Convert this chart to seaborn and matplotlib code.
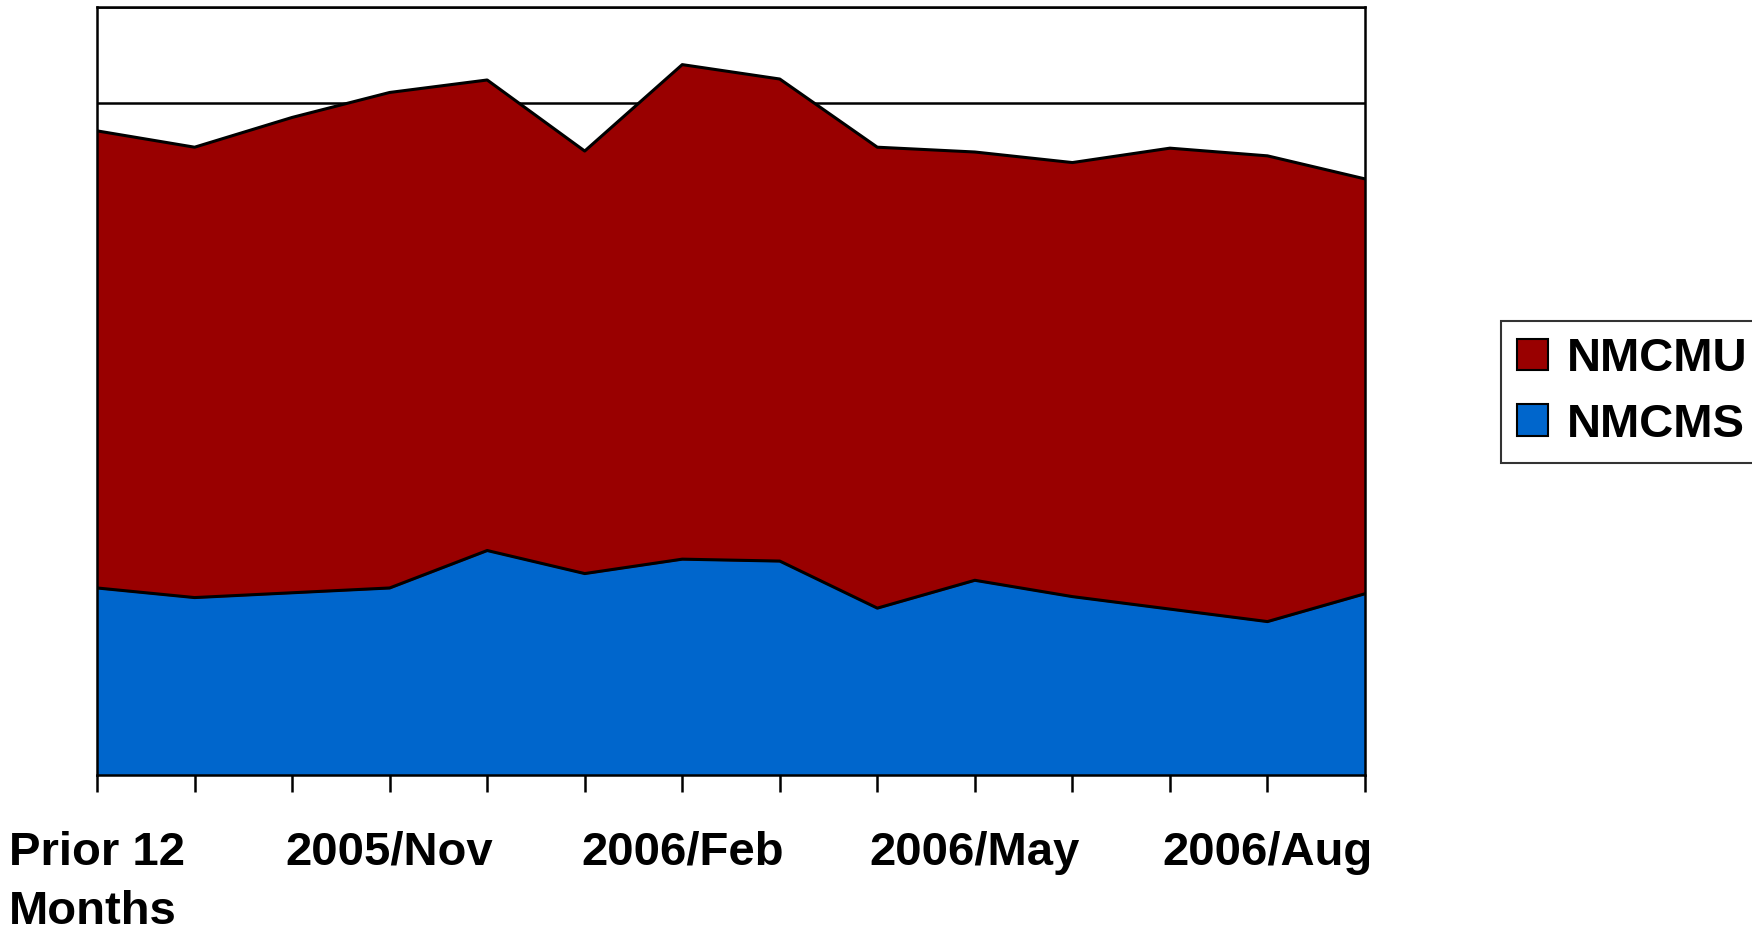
import numpy as np
import pandas as pd
import matplotlib
matplotlib.use("Agg")
import matplotlib.pyplot as plt
import seaborn as sns
from matplotlib.patches import Patch

months = ["Prior 12\nMonths", "2005/Sep", "2005/Oct", "2005/Nov", "2005/Dec",
          "2006/Jan", "2006/Feb", "2006/Mar", "2006/Apr", "2006/May",
          "2006/Jun", "2006/Jul", "2006/Aug", "2006/Sep"]
shown_labels = ["Prior 12\nMonths", "2005/Nov", "2006/Feb", "2006/May", "2006/Aug"]
nmcms = [1.95, 1.85, 1.90, 1.95, 2.34, 2.10, 2.25, 2.23, 1.74, 2.03, 1.86, 1.73, 1.60, 1.89]
nmcmu = [4.76, 4.69, 4.95, 5.16, 4.90, 4.40, 5.15, 5.02, 4.80, 4.46, 4.52, 4.80, 4.85, 4.32]

red = "#990000"
blue = "#0066CC"

df = pd.DataFrame({"month": months, "NMCMS": nmcms, "NMCMU": nmcmu})
df["pos"] = np.arange(len(df))
df["total"] = df["NMCMS"] + df["NMCMU"]

sns.set_theme(style="white")
plt.rcParams["font.family"] = ["Liberation Sans", "DejaVu Sans"]
plt.rcParams["font.weight"] = "bold"
plt.rcParams["text.color"] = "black"
plt.rcParams["xtick.color"] = "black"
plt.rcParams["xtick.labelcolor"] = "black"

fig = plt.figure(figsize=(17.52, 9.34), dpi=100)
ax = fig.add_axes([0.0554, 0.170, 0.7237, 0.8225])

ax.fill_between(df["pos"], 0, df["NMCMS"], color=blue, zorder=2)
ax.fill_between(df["pos"], df["NMCMS"], df["total"], color=red, zorder=2)
sns.lineplot(x="pos", y="NMCMS", data=df, color="black", lw=2.2, ax=ax, zorder=3)
sns.lineplot(x="pos", y="total", data=df, color="black", lw=2.2, ax=ax, zorder=3)

ax.set_xlim(0, 13)
ax.set_ylim(0, 8)
ax.set_yticks(range(9))
ax.set_yticklabels([])
ax.tick_params(axis="y", length=0)
ax.yaxis.grid(True, color="black", lw=1.8, zorder=0)
ax.set_axisbelow(True)

ax.set_xticks(df["pos"])
ax.set_xticklabels([m if m in shown_labels else "" for m in months],
                   fontsize=34, fontweight="bold", color="black",
                   linespacing=1.45)
for t in ax.get_xticklabels():
    t.set_verticalalignment("top")
    t.set_multialignment("left")
ax.tick_params(axis="x", direction="out", length=12, width=1.8, color="black",
               pad=28, bottom=True)
ax.set_xlabel("")
ax.set_ylabel("")
for s in ax.spines.values():
    s.set_visible(True)
    s.set_color("black")
    s.set_linewidth(1.8)

handles = [Patch(facecolor=red, edgecolor="black", lw=1.5, label="NMCMU"),
           Patch(facecolor=blue, edgecolor="black", lw=1.5, label="NMCMS")]
leg = fig.legend(handles=handles, loc="upper left", bbox_to_anchor=(0.8566, 0.6566),
                 prop={"size": 34, "weight": "bold"}, frameon=True, fancybox=False,
                 edgecolor="black", borderpad=0.35, labelspacing=0.45,
                 handlelength=0.65, handleheight=0.65, handletextpad=0.4,
                 borderaxespad=0, labelcolor="black")
leg.get_frame().set_linewidth(1.5)

fig.savefig("out.png", dpi=100)
